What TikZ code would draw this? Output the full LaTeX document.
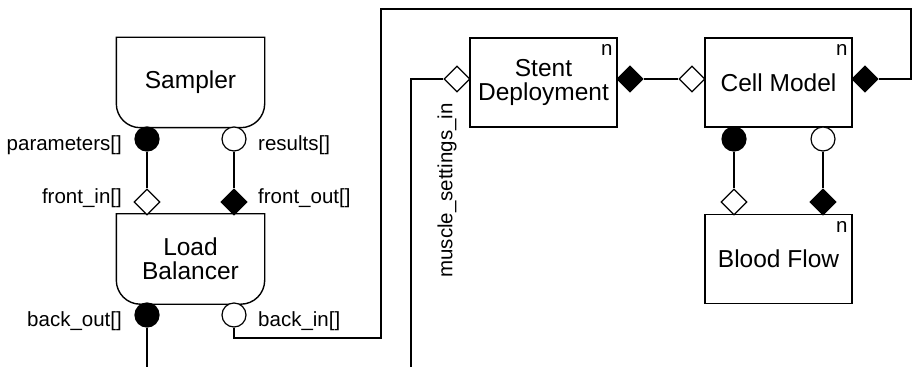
\documentclass[tikz,border=0pt]{standalone}
\usepackage{fontspec}
\setmainfont{Liberation Sans}
\usetikzlibrary{shapes.geometric}
\tikzset{
  kernel/.style={draw, line width=1.4pt, minimum width=147pt, minimum height=89pt, inner sep=0pt, align=center, font=\fontsize{24.5}{24}\selectfont},
  mapper/.style={kernel, draw=none},
  fcirc/.style={circle, draw, fill=black, line width=1.2pt, minimum size=24pt, inner sep=0pt},
  ocirc/.style={fcirc, fill=white},
  fdiam/.style={diamond, draw, fill=black, line width=1.2pt, minimum width=26pt, minimum height=26pt, inner sep=0pt},
  odiam/.style={fdiam, fill=white},
  portlabel/.style={inner sep=0pt, font=\fontsize{20.5}{23}\selectfont},
  conduit/.style={line width=1.2pt}
}
\begin{document}
\begin{tikzpicture}[x=1pt,y=1pt]
\useasboundingbox (0,0) rectangle (912,367);
% submodels
\node[mapper] (sampler) at (190.5,284.5) {Sampler};
\node[mapper] (lb) at (190.5,108) {Load\\Balancer};
\node[kernel] (stent) at (543.5,284.5) {Stent\\Deployment};
\node[kernel] (cell) at (778.5,284.5) {Cell Model};
\node[kernel] (blood) at (778.5,108) {Blood Flow};
\foreach \m in {sampler,lb}
  \draw[line width=1.4pt] (\m.north west) -- (\m.north east) -- ([yshift=24]\m.south east)
    arc[start angle=0,end angle=-90,radius=24] -- ([xshift=24]\m.south west)
    arc[start angle=270,end angle=180,radius=24] -- cycle;
\foreach \k in {stent,cell,blood}
  \node[portlabel] (\k-n) at ([shift={(-11,-13)}]\k.north east) {n};
% ports
\node[fcirc] (sampler-par) at (147,228) {};
\node[ocirc] (sampler-res) at (234,228) {};
\node[odiam] (lb-fin) at (147,165) {};
\node[fdiam] (lb-fout) at (234,165) {};
\node[fcirc] (lb-bout) at (147,52) {};
\node[ocirc] (lb-bin) at (234,52) {};
\node[odiam] (stent-in) at (457,288) {};
\node[fdiam] (stent-out) at (630,288) {};
\node[odiam] (cell-in) at (692,288) {};
\node[fdiam] (cell-out) at (865,288) {};
\node[fcirc] (cell-a) at (734,228) {};
\node[ocirc] (cell-b) at (823,228) {};
\node[odiam] (blood-a) at (734,165) {};
\node[fdiam] (blood-b) at (823,165) {};
\coordinate (bout-end) at (147,0);
\coordinate (ms-end) at (411,0);
% conduits
\draw[conduit] (sampler-par) -- (lb-fin);
\draw[conduit] (sampler-res) -- (lb-fout);
\draw[conduit] (stent-out) -- (cell-in);
\draw[conduit] (cell-a) -- (blood-a);
\draw[conduit] (cell-b) -- (blood-b);
\draw[conduit] (lb-bout) -- (bout-end);
\draw[conduit] (stent-in) -| (ms-end);
\draw[conduit] (lb-bin) |- (381,29) |- (911,358) |- (cell-out);
% port names
\node[portlabel, anchor=east] (par-l) at (122,222) {parameters[]};
\node[portlabel, anchor=west] (res-l) at (258,222) {results[]};
\node[portlabel, anchor=east] (fin-l) at (122,169) {front\_in[]};
\node[portlabel, anchor=west] (fout-l) at (258,169) {front\_out[]};
\node[portlabel, anchor=east] (bout-l) at (122,46) {back\_out[]};
\node[portlabel, anchor=west] (bin-l) at (258,46) {back\_in[]};
\node[portlabel, rotate=90] (ms-l) at (447,176.5) {muscle\_settings\_in};
\end{tikzpicture}
\end{document}
